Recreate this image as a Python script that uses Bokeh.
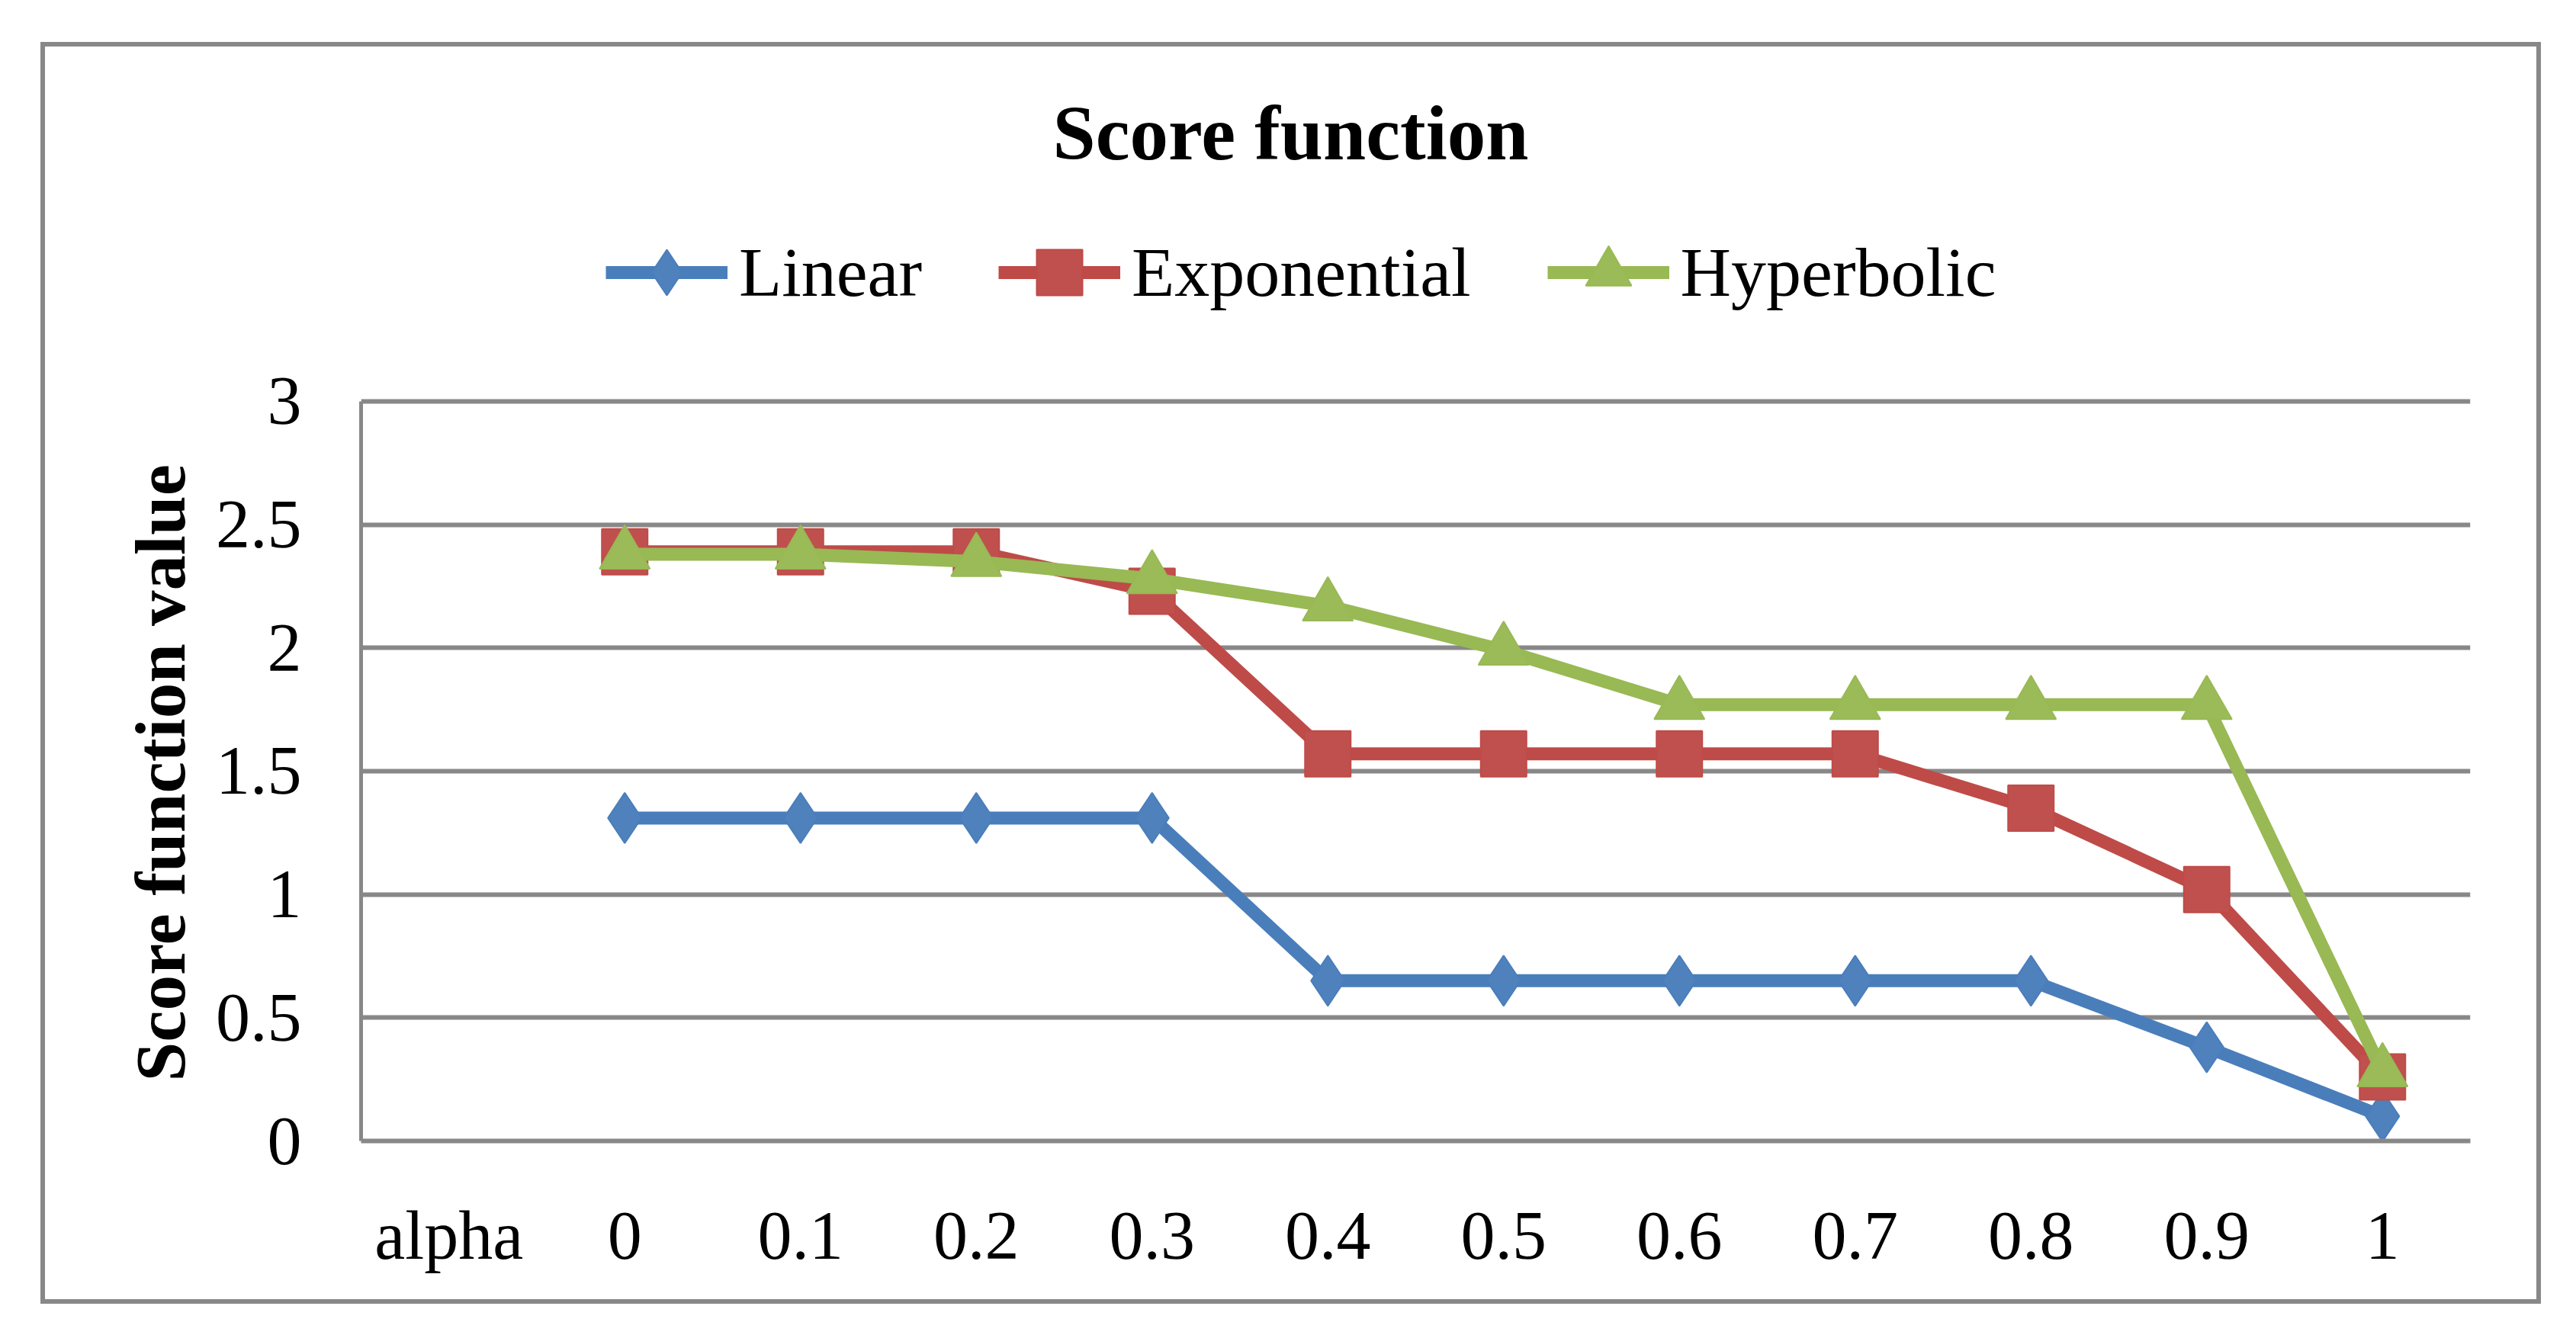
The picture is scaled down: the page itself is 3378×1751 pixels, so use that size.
from bokeh.plotting import figure
from bokeh.models import (Legend, LegendItem, Label, Title, FactorRange, Range1d,
                          FixedTicker, NumeralTickFormatter)
from bokeh.embed import file_html
from bokeh.resources import INLINE

# ---- data ----
categories = ["alpha", "0", "0.1", "0.2", "0.3", "0.4", "0.5", "0.6", "0.7", "0.8", "0.9", "1"]
alpha_values = ["0", "0.1", "0.2", "0.3", "0.4", "0.5", "0.6", "0.7", "0.8", "0.9", "1"]
linear = [1.31, 1.31, 1.31, 1.31, 0.65, 0.65, 0.65, 0.65, 0.65, 0.38, 0.10]
exponential = [2.39, 2.39, 2.39, 2.23, 1.57, 1.57, 1.57, 1.57, 1.35, 1.02, 0.26]
hyperbolic = [2.38, 2.38, 2.35, 2.28, 2.17, 1.99, 1.77, 1.77, 1.77, 1.77, 0.28]
y_ticks = [0, 0.5, 1, 1.5, 2, 2.5, 3]
y_axis_max = 3
y_view_max = 4.438   # extra room above the plot area for title and legend

FONT = "Liberation Serif"
GRID = "#888888"

p = figure(x_range=FactorRange(*categories), y_range=Range1d(0, y_view_max),
           width=3279, height=1655, output_backend="svg", toolbar_location=None,
           min_border_left=414, min_border_right=99, min_border_top=0, min_border_bottom=220,
           title=None)
p.margin = (55, 0, 0, 53)
p.styles = {"border": "6px solid #888888"}
p.outline_line_color = None
p.background_fill_color = "white"
p.border_fill_color = "white"

# axes
p.yaxis.ticker = FixedTicker(ticks=y_ticks)
p.yaxis.bounds = (0, y_axis_max)
p.yaxis.formatter = NumeralTickFormatter(format="0.[0]")
p.yaxis.axis_line_color = GRID
p.yaxis.axis_line_width = 5
p.yaxis.major_tick_line_color = None
p.yaxis.minor_tick_line_color = None
p.yaxis.major_label_text_font = FONT
p.yaxis.major_label_text_font_size = "90px"
p.yaxis.major_label_text_color = "black"
p.yaxis.major_label_standoff = 72

p.xaxis.axis_line_color = GRID
p.xaxis.axis_line_width = 6
p.xaxis.major_tick_line_color = None
p.xaxis.minor_tick_line_color = None
p.xaxis.major_label_text_font = FONT
p.xaxis.major_label_text_font_size = "90px"
p.xaxis.major_label_text_color = "black"
p.xaxis.major_label_standoff = 68

p.xgrid.visible = False
p.ygrid.grid_line_color = GRID
p.ygrid.grid_line_width = 6

# y axis title, aligned to the 0..3 part of the axis
ytitle = Title(text="Score function value", align="left", offset=78, standoff=36,
               text_font=FONT, text_font_style="bold", text_font_size="93px", text_color="black")
p.add_layout(ytitle, "left")

series = [
    ("Linear", linear, "#4A7EBB", "#4F81BD", "diamond", 66),
    ("Exponential", exponential, "#BE4B48", "#C0504D", "square", 60),
    ("Hyperbolic", hyperbolic, "#98B954", "#9BBB59", "triangle", 66),
]
items = []
for name, vals, lc, fc, mk, sz in series:
    lr = p.line(alpha_values, vals, line_color=lc, line_width=17, line_join="round")
    sr = p.scatter(alpha_values, vals, marker=mk, size=sz, fill_color=fc, line_color=lc, line_width=2)
    items.append(LegendItem(label=name, renderers=[lr, sr]))

legend = Legend(items=items, orientation="horizontal", location=(321, 1064),
                glyph_width=160, glyph_height=150, label_standoff=15, spacing=100,
                padding=0, margin=0, border_line_color=None, background_fill_alpha=0,
                label_text_font=FONT, label_text_font_size="92px", label_text_color="black")
p.add_layout(legend)

title = Label(x=1219, y=1322, x_units="screen", y_units="screen", text="Score function",
              text_align="center", text_baseline="middle", text_font=FONT,
              text_font_style="bold", text_font_size="101px", text_color="black")
p.add_layout(title)

open("out.html", "w").write(file_html(p, INLINE))
